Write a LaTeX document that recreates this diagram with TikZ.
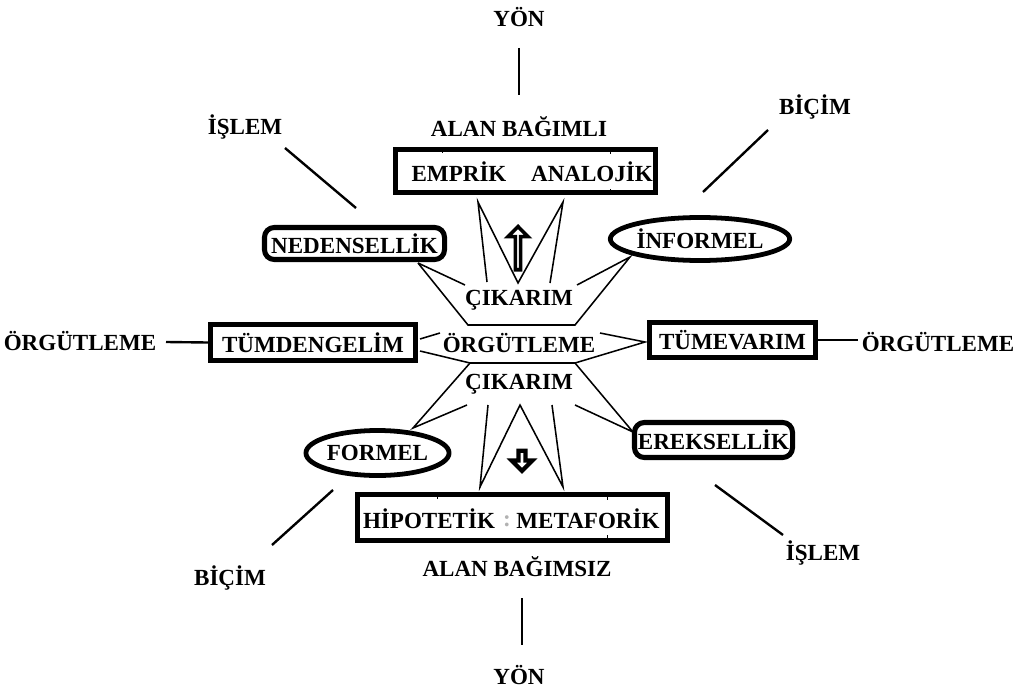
\documentclass[tikz,border=0pt]{standalone}
\usepackage{fontspec}
\setmainfont{Liberation Serif}
\usetikzlibrary{shapes.geometric,shapes.arrows}

\begin{document}
\begin{tikzpicture}[x=0.025cm,y=-0.025cm,
    every node/.style={font=\fontsize{16.4}{19}\selectfont\bfseries},
    kutu/.style={draw,line width=3.6pt,inner sep=0pt},
    yuvarlak/.style={draw,line width=3.6pt,rounded corners=7pt,inner sep=0pt},
    elips/.style={draw,ellipse,line width=3.4pt,inner sep=0pt},
    yildiz/.style={line width=1.1pt},
    cizgi/.style={line width=1.7pt},
    okucu/.style={draw,fill=white,shape=single arrow,inner sep=0pt}]
        \useasboundingbox (0,0) rectangle (1016,689);

        % yon ve alan
        \node (yonust) at (519,17) {YÖN};
        \node (alanust) at (519,127) {ALAN BAĞIMLI};
        \node (yonalt) at (519,675) {YÖN};
        \node (alanalt) at (517,567) {ALAN BAĞIMSIZ};
        \node (islemust) at (245,127) {İŞLEM};
        \node (islemalt) at (823,553) {İŞLEM};
        \node (bicimust) at (815,107) {BİÇİM};
        \node (bicimalt) at (230,578) {BİÇİM};
        \node (orgsol) at (80,341) {ÖRGÜTLEME};
        \node (orgsag) at (938,342) {ÖRGÜTLEME};

        % kutular
        \node[kutu,minimum width=6.5cm,minimum height=1.075cm] (ustkutu) at (525.5,171) {};
        \node (emprik) at (459,172) {EMPRİK};
        \node (analojik) at (592,172) {ANALOJİK};
        \node[kutu,minimum width=7.75cm,minimum height=1.15cm] (altkutu) at (512.5,517.5) {};
        \node (hipotetik) at (429,519) {HİPOTETİK};
        \node (metaforik) at (588,519) {METAFORİK};
        \node[text=black!30] (iki) at (507,521) {:};
        \node[kutu,minimum width=5.125cm,minimum height=0.9cm] (tumden) at (313,342.5) {TÜMDENGELİM};
        \node[kutu,minimum width=4.15cm,minimum height=0.875cm] (tumev) at (732.5,340) {TÜMEVARIM};
        \node[yuvarlak,minimum width=4.5cm,minimum height=0.8cm] (neden) at (354.5,243.5) {NEDENSELLİK};
        \node[yuvarlak,minimum width=3.95cm,minimum height=0.875cm] (erek) at (713.5,440) {EREKSELLİK};
        \node[elips,minimum width=3.725cm,minimum height=1.075cm] (informel) at (700,239) {İNFORMEL};
        \node[elips,minimum width=3.1cm,minimum height=1.125cm] (formel) at (377.5,453) {FORMEL};

        % orta
        \node (cikust) at (519,300) {ÇIKARIM};
        \node (orgorta) at (519,343) {ÖRGÜTLEME};
        \node (cikalt) at (519,384) {ÇIKARIM};
        \node[okucu,line width=2.6pt,shape border rotate=90,minimum height=1.08cm,minimum width=0.5cm,
              single arrow head extend=0.13cm] (yukari) at (518,249.5) {};
        \node[okucu,line width=3pt,shape border rotate=270,minimum height=0.5cm,minimum width=0.52cm,
              single arrow head extend=0.1cm] (asagi) at (522,459) {};

        % kutu icindeki kucuk cizgiler
        \draw[semithick] (442,149) -- (442,153)  (610,149) -- (610,154)  (610,189) -- (610,193);
        \draw[semithick] (437,495) -- (437,499)  (607,495) -- (607,500)  (607,535) -- (607,540);

        % yildiz
        \coordinate (nu) at (418,263);
        \coordinate (iu) at (630,257);
        \coordinate (fu) at (413,428);
        \coordinate (eu) at (633,432);
        \coordinate (tu1) at (420,339);  \coordinate (tu2) at (420,351);
        \coordinate (vu) at (645,342);
        \coordinate (a1) at (465,285);  \coordinate (a2) at (468,325);
        \coordinate (b1) at (577,285);  \coordinate (b2) at (575,325);
        \coordinate (c1) at (470,363);  \coordinate (c2) at (575,363);
        \coordinate (d1) at (467,405);  \coordinate (d2) at (575,405);
        \draw[yildiz] (nu) -- (a1)  (nu) -- (a2) -- (b2) -- (iu) -- (b1);
        \draw[yildiz] (487,282) -- (478,202) -- (518,283) -- (563,202) -- (550,283);
        \draw[yildiz] (tu1) -- (440,333)  (tu2) -- (c1) -- (c2) -- (vu) -- (600,333);
        \draw[yildiz] (d1) -- (fu) -- (c1)  (c2) -- (eu) -- (d2);
        \draw[yildiz] (488,405) -- (480,487) -- (520,405) -- (563,487) -- (552,405);

        % dis cizgiler
        \draw[cizgi] (519,48) -- (519,95)  (522,598) -- (522,645);
        \draw[cizgi] (285,148) -- (356,208)  (768,130) -- (703,192);
        \draw[cizgi] (333,490) -- (272,545)  (715,485) -- (783,535);
        \draw[cizgi] (166,342) -- (tumden.west);
        \draw[cizgi] (tumev.east) -- ++(40,0);
    \end{tikzpicture}
\end{document}
